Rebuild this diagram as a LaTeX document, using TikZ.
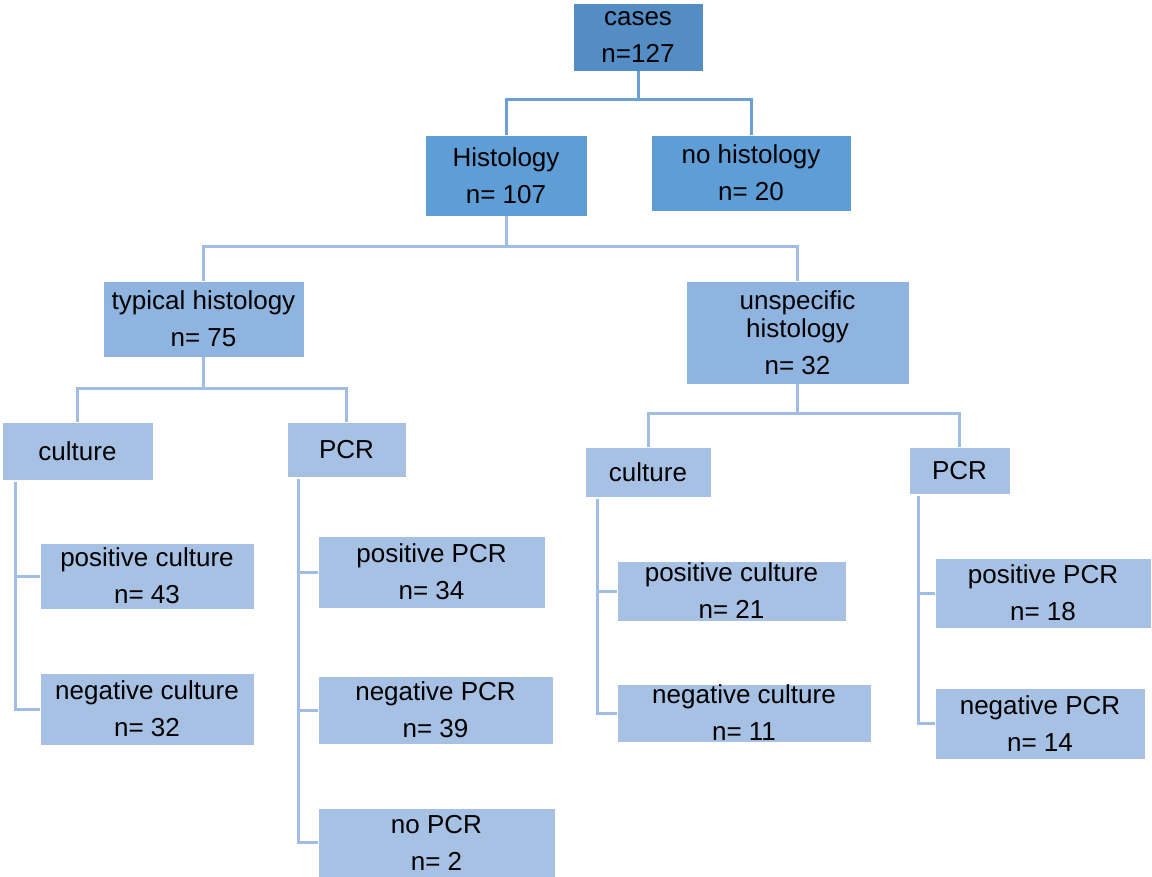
\documentclass[tikz,border=0pt]{standalone}
\usepackage{fontspec}
\setmainfont{Liberation Sans}
\definecolor{cA}{RGB}{83,141,196}
\definecolor{cB}{RGB}{94,157,214}
\definecolor{cC}{RGB}{143,180,223}
\definecolor{cD}{RGB}{166,193,228}
\definecolor{lA}{RGB}{106,160,214}
\definecolor{lB}{RGB}{160,190,228}
\tikzset{
  box/.style={draw=white, line width=0.8pt, inner sep=0pt, align=center,
    font=\fontsize{26}{37}\selectfont, text=black},
  conn/.style={line width=3pt, draw=lB},
  connA/.style={line width=3pt, draw=lA},
}
\begin{document}
\begin{tikzpicture}[x=1pt,y=-1pt]
\useasboundingbox (0,0) rectangle (1152,877);
% level 0
\node[box, fill=cA, minimum width=130, minimum height=68] (cases) at (638,37) {cases\\n=127};
% level 1
\node[box, fill=cB, minimum width=162, minimum height=81] (hist) at (506,175.5) {Histology\\n= 107};
\node[box, fill=cB, minimum width=200, minimum height=76] (nohist) at (751,173) {no histology\\n= 20};
% level 2
\node[box, fill=cC, minimum width=201, minimum height=76] (typ) at (203.5,319) {typical histology\\n= 75};
\node[box, fill=cC, minimum width=223, minimum height=103] (unsp) at (797.5,332.5) {unspecific\\[-9pt]histology\\n= 32};
% level 3
\node[box, fill=cD, minimum width=151, minimum height=58] (cultL) at (77.5,451) {culture};
\node[box, fill=cD, minimum width=119, minimum height=55] (pcrL) at (346.5,449.5) {PCR};
\node[box, fill=cD, minimum width=126, minimum height=50] (cultR) at (648,472) {culture};
\node[box, fill=cD, minimum width=101, minimum height=47] (pcrR) at (959.5,470.5) {PCR};
% level 4
\node[box, fill=cD, minimum width=214, minimum height=66] (posCL) at (147,576) {positive culture\\n= 43};
\node[box, fill=cD, minimum width=214, minimum height=72] (negCL) at (147,709) {negative culture\\n= 32};
\node[box, fill=cD, minimum width=227, minimum height=72] (posPL) at (431.5,572) {positive PCR\\n= 34};
\node[box, fill=cD, minimum width=235, minimum height=68] (negPL) at (435.5,710) {negative PCR\\n= 39};
\node[box, fill=cD, minimum width=237, minimum height=69] (noPL) at (436.5,842.5) {no PCR\\n= 2};
\node[box, fill=cD, minimum width=229, minimum height=60] (posCR) at (731.5,591) {positive culture\\n= 21};
\node[box, fill=cD, minimum width=254, minimum height=58] (negCR) at (744,713) {negative culture\\n= 11};
\node[box, fill=cD, minimum width=216, minimum height=70] (posPR) at (1043,593) {positive PCR\\n= 18};
\node[box, fill=cD, minimum width=210, minimum height=71] (negPR) at (1040,723.5) {negative PCR\\n= 14};
% junctions
\coordinate (j0) at (638,100);
\coordinate (j1) at (506,247);
\coordinate (j2) at (203.5,389);
\coordinate (j3) at (797.5,414);
\coordinate (cl) at (15,482);
\coordinate (pl) at (298,479);
\coordinate (cr) at (597,499);
\coordinate (pr) at (918,496);
% connectors
\draw[connA] (cases.south) -- (j0);
\draw[connA] (hist.north) |- (j0) -| (nohist.north);
\draw[conn] (hist.south) -- (j1);
\draw[conn] (typ.north) |- (j1) -| (unsp.north);
\draw[conn] (typ.south) -- (j2);
\draw[conn] (cultL.north) |- (j2) -| (pcrL.north);
\draw[conn] (unsp.south) -- (j3);
\draw[conn] (cultR.north) |- (j3) -| (pcrR.north);
\draw[conn] (cl) |- (negCL.west);
\draw[conn] (cl |- posCL.west) -- (posCL.west);
\draw[conn] (pl) |- (noPL.west);
\draw[conn] (pl |- posPL.west) -- (posPL.west);
\draw[conn] (pl |- negPL.west) -- (negPL.west);
\draw[conn] (cr) |- (negCR.west);
\draw[conn] (cr |- posCR.west) -- (posCR.west);
\draw[conn] (pr) |- (negPR.west);
\draw[conn] (pr |- posPR.west) -- (posPR.west);
\end{tikzpicture}
\end{document}
